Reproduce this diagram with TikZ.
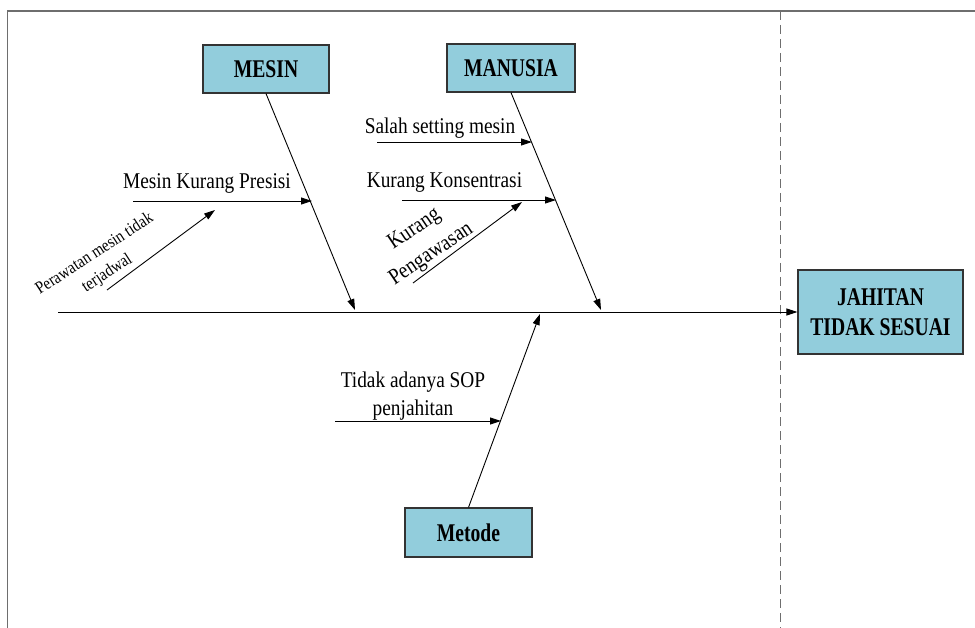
\documentclass[tikz,border=0pt]{standalone}
\usepackage{fontspec}
\setmainfont{Liberation Serif}[FakeStretch=0.86]
\newfontfamily\boxfont{Liberation Serif}[FakeStretch=0.77]
\usetikzlibrary{arrows.meta}
\definecolor{boxblue}{RGB}{146,205,220}
\definecolor{framegray}{RGB}{110,110,110}
\begin{document}
\begin{tikzpicture}[x=1pt,y=-1pt,
  cat/.style={draw=black!80, line width=1.2pt, fill=boxblue, align=center, inner sep=0pt,
    font=\boxfont\bfseries\fontsize{25.5}{30}\selectfont},
  cause/.style={inner sep=0pt, align=center, font=\fontsize{22.5}{28}\selectfont},
  bone/.style={line width=0.9pt, -{Triangle[length=11pt,width=7pt]}},
  frame/.style={draw=framegray, line width=1.2pt}]
\useasboundingbox (0,0) rectangle (975,628);
% frame
\coordinate (fTL) at (7.5,11);
\coordinate (fTR) at (975,11);
\coordinate (fBL) at (7.5,628);
\coordinate (dT) at (780,11);
\coordinate (dB) at (780,628);
\draw[frame] (fBL) -- (fTL) -- (fTR);
\draw[framegray, line width=1pt, dash pattern=on 9pt off 5pt] (dT) -- (dB);
% category boxes
\node[cat, minimum width=126, minimum height=48] (mesin) at (266,69) {MESIN};
\node[cat, minimum width=128, minimum height=48] (manusia) at (511,68) {MANUSIA};
\node[cat, minimum width=127, minimum height=49] (metode) at (468.5,532.5) {Metode};
\node[cat, minimum width=165, minimum height=84] (effect) at (880.5,312) {JAHITAN\\TIDAK SESUAI};
% spine and bones
\coordinate (tail) at (58,312);
\coordinate (mS) at (355,310);
\coordinate (nS) at (601,310);
\coordinate (tS) at (540,314);
\draw[bone] (tail) -- (effect.west);
\draw[bone] (mesin.south) -- (mS);
\draw[bone] (manusia.south) -- (nS);
\draw[bone] (metode.north) -- (tS);
% causes
\node[cause, anchor=base] (c1) at (207,189) {Mesin Kurang Presisi};
\coordinate (c1s) at (133,201);
\coordinate (c1e) at (312,201);
\draw[bone] (c1s) -- (c1e);
\node[cause, rotate=33, font=\fontsize{17.5}{23}\selectfont] (c2) at (101,264) {Perawatan mesin tidak\\terjadwal};
\coordinate (c2s) at (107,290);
\coordinate (c2e) at (215,210);
\draw[bone] (c2s) -- (c2e);
\node[cause, anchor=base] (c3) at (440,134) {Salah setting mesin};
\coordinate (c3s) at (377,142);
\coordinate (c3e) at (532,142);
\draw[bone] (c3s) -- (c3e);
\node[cause, anchor=base] (c4) at (444.5,188) {Kurang Konsentrasi};
\coordinate (c4s) at (402,200);
\coordinate (c4e) at (556,200);
\draw[bone] (c4s) -- (c4e);
\node[cause, rotate=34, font=\fontsize{22.5}{30}\selectfont] (c5) at (423,242) {Kurang\\Pengawasan};
\coordinate (c5s) at (413,283);
\coordinate (c5e) at (522,202);
\draw[bone] (c5s) -- (c5e);
\node[cause] (c6) at (413,396) {Tidak adanya SOP\\penjahitan};
\coordinate (c6s) at (335,421);
\coordinate (c6e) at (501,421);
\draw[bone] (c6s) -- (c6e);
\end{tikzpicture}
\end{document}
